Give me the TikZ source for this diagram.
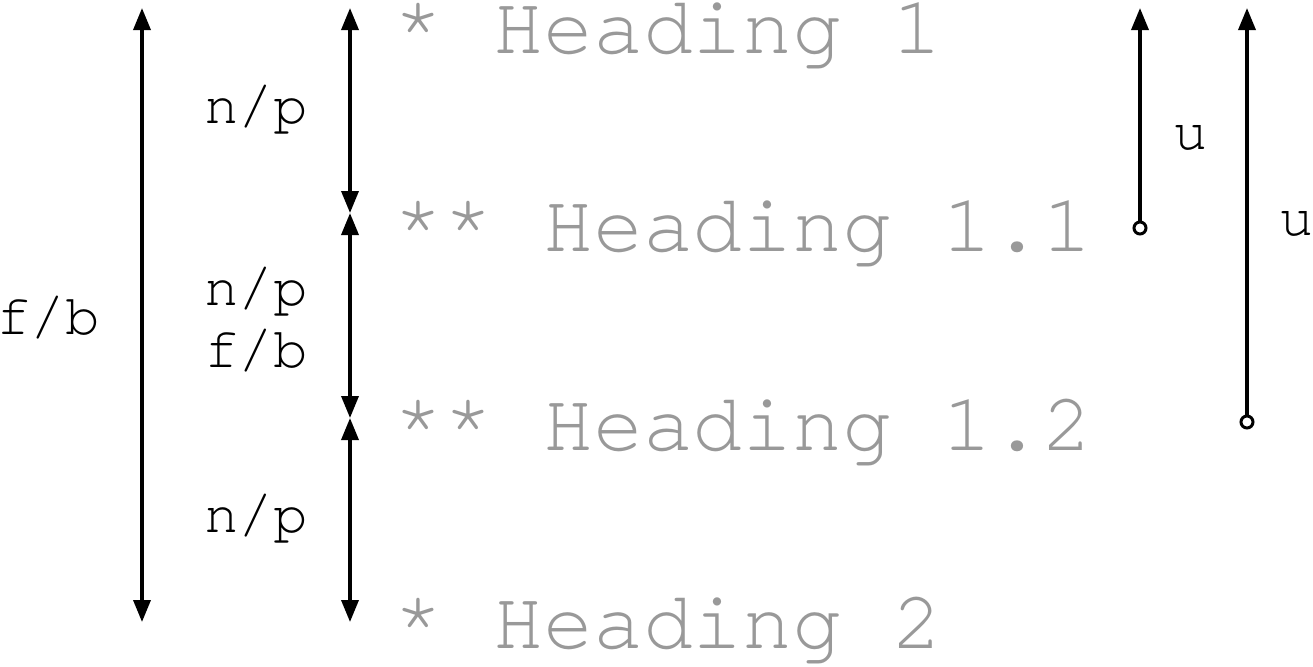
\documentclass[tikz,border=0pt]{standalone}
\usepackage{fontspec}
\usetikzlibrary{arrows.meta}
\newfontfamily\codefont{TeX Gyre Cursor}
\definecolor{headgray}{RGB}{153,153,153}
\tikzset{
  heading/.style={anchor=base west, inner sep=0pt, text=headgray,
    font=\codefont\fontsize{41.6}{48}\selectfont},
  tag/.style={anchor=base, inner sep=0pt, font=\codefont\fontsize{28.8}{34}\selectfont},
  span/.style={line width=1.75pt,
    {Triangle[length=11pt,width=8.5pt]}-{Triangle[length=11pt,width=8.5pt]}},
  rise/.style={line width=1.75pt, -{Triangle[length=11pt,width=8.5pt]}},
  pinhole/.style={circle, draw, line width=1.5pt, fill=white, inner sep=0pt, minimum size=6pt}
}
\newcommand{\Tag}[3]{\node[tag] (#1) at (#2) {#3};}

\begin{document}
\begin{tikzpicture}[x=0.5pt,y=-0.5pt]
\useasboundingbox (0,0) rectangle (1313,666);

	\node[heading] (H1)  at (393,53)  {* Heading 1};
	\node[heading] (H11) at (393,251) {** Heading 1.1};
	\node[heading] (H12) at (393,450) {** Heading 1.2};
	\node[heading] (H2)  at (393,648) {* Heading 2};

	\coordinate (fbtop) at (142,8);
	\coordinate (fbbot) at (142,622);
	\coordinate (m0) at (350,8);
	\coordinate (m1) at (350,213);
	\coordinate (m2) at (350,418);
	\coordinate (m3) at (350,622);
	\coordinate (u1top) at (1140,8);
	\coordinate (u2top) at (1247,8);
	\node[pinhole] (o1) at (1140,228) {};
	\node[pinhole] (o2) at (1247,422) {};

	\draw[span] (fbtop) -- (fbbot);
	\draw[span] (m0) -- (m1);
	\draw[span] (m1) -- (m2);
	\draw[span] (m2) -- (m3);
	\draw[rise] (o1) -- (u1top);
	\draw[rise] (o2) -- (u2top);

	\Tag{fb}{48,334}{f/b}
	\Tag{np1}{256,123}{n/p}
	\Tag{np2}{256,305}{n/p}
	\Tag{fb2}{256,367}{f/b}
	\Tag{np3}{256,532}{n/p}
	\Tag{u1}{1191,149}{u}
	\Tag{u2}{1297,235}{u}

\end{tikzpicture}
\end{document}
